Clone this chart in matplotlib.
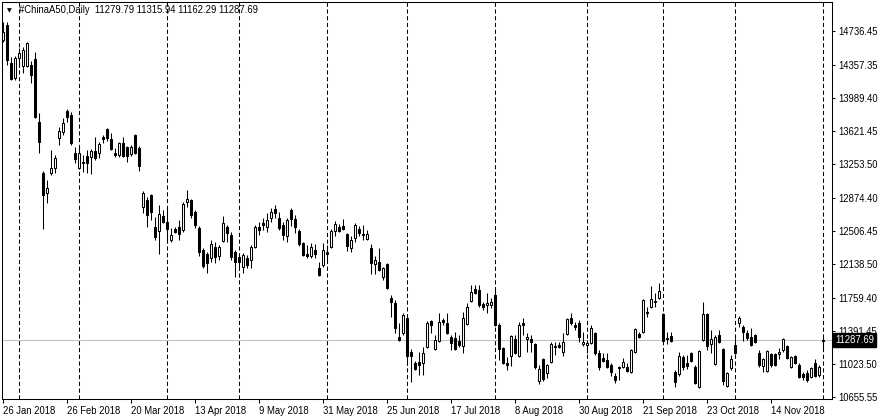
import matplotlib
matplotlib.use("Agg")
import matplotlib.pyplot as plt
from matplotlib.patches import Rectangle
from matplotlib.transforms import blended_transform_factory

symbol = "#ChinaA50,Daily"

opens = [14633, 14800, 14376, 14209, 14432, 14343, 14343, 14354, 14421, 13719,
         13150, 12927, 13150, 13206, 13540, 13607, 13841, 13797, 13373, 13206,
         13273, 13340, 13328, 13395, 13373, 13551, 13641, 13529, 13373, 13351,
         13485, 13440, 13362, 13574, 13429, 12771, 12849, 12905, 12548, 12503,
         12671, 12604, 12403, 12526, 12548, 12515, 12827, 12849, 12715, 12537,
         12292, 12247, 12202, 12325, 12225, 12392, 12548, 12459, 12269, 12213,
         12102, 12202, 12180, 12325, 12548, 12593, 12548, 12648, 12749, 12648,
         12570, 12448, 12738, 12637, 12503, 12370, 12247, 12225, 12292, 12091,
         12124, 12269, 12325, 12503, 12548, 12559, 12470, 12314, 12425, 12526,
         12470, 12414, 12314, 12135, 12158, 11990, 12135, 11756, 11701, 11321,
         11366, 11533, 11154, 11032, 11043, 11032, 11210, 11500, 11188, 11277,
         11511, 11478, 11321, 11310, 11277, 11221, 11466, 11723, 11857, 11846,
         11689, 11678, 11678, 11790, 11455, 11199, 11032, 11110, 11299, 11110,
         11478, 11299, 11299, 11243, 10831, 11076, 10920, 11043, 11221, 11232,
         11154, 11355, 11533, 11455, 11478, 11243, 11232, 11255, 11366, 11143,
         11087, 11065, 11009, 10887, 10987, 10987, 10987, 10931, 11154, 11355,
         11377, 11600, 11656, 11723, 11756, 11578, 11310, 11333, 10931, 10909,
         11098, 11032, 11143, 10987, 10764, 11288, 11578, 11243, 11020, 11344,
         11188, 10775, 10976, 11232, 11478, 11433, 11366, 11321, 11344, 11143,
         10998, 10942, 11132, 11132, 11132, 11177, 11221, 10987, 11110, 11009,
         10909, 10920, 10875, 11032, 10898, 11279.79]

highs = [14834, 14834, 14443, 14455, 14544, 14555, 14611, 14399, 14499, 13819,
         13172, 13072, 13407, 13351, 13663, 13763, 13864, 13830, 13440, 13429,
         13351, 13407, 13418, 13551, 13496, 13574, 13652, 13596, 13429, 13496,
         13551, 13451, 13462, 13585, 13451, 12949, 12882, 12916, 12659, 12793,
         12738, 12771, 12537, 12548, 12626, 12827, 12961, 12860, 12738, 12559,
         12314, 12269, 12403, 12381, 12347, 12671, 12570, 12492, 12292, 12236,
         12258, 12236, 12347, 12570, 12604, 12648, 12704, 12760, 12793, 12715,
         12604, 12648, 12760, 12682, 12526, 12381, 12347, 12370, 12358, 12158,
         12370, 12347, 12526, 12615, 12581, 12637, 12481, 12448, 12593, 12559,
         12570, 12515, 12358, 12225, 12314, 12102, 12147, 11790, 11734, 11478,
         11589, 11556, 11188, 11054, 11154, 11210, 11500, 11511, 11344, 11589,
         11533, 11589, 11344, 11377, 11344, 11600, 11701, 11901, 11901, 11901,
         11712, 11812, 11756, 11846, 11478, 11210, 11098, 11344, 11344, 11489,
         11533, 11366, 11344, 11255, 11009, 11087, 11020, 11266, 11266, 11266,
         11366, 11533, 11589, 11489, 11511, 11377, 11288, 11455, 11377, 11177,
         11143, 11143, 11032, 10920, 10998, 11087, 11032, 11188, 11422, 11377,
         11745, 11656, 11890, 11812, 11924, 11589, 11377, 11377, 10954, 11154,
         11121, 11121, 11154, 11009, 11177, 11712, 11589, 11400, 11344, 11400,
         11199, 10931, 11121, 11310, 11556, 11455, 11400, 11422, 11355, 11177,
         11087, 11177, 11143, 11143, 11199, 11310, 11232, 11110, 11121, 11032,
         10931, 10954, 10987, 11076, 11009, 11315.94]

lows = [14611, 14354, 14187, 14187, 14332, 14265, 14332, 14153, 13763, 13373,
        12526, 12816, 13128, 13150, 13462, 13574, 13719, 13462, 13262, 13195,
        13161, 13150, 13139, 13295, 13317, 13485, 13507, 13407, 13328, 13328,
        13328, 13273, 13340, 13362, 13172, 12704, 12548, 12626, 12403, 12247,
        12593, 12381, 12381, 12481, 12403, 12492, 12771, 12648, 12537, 12225,
        12091, 12035, 12158, 12147, 12180, 12381, 12381, 12180, 11990, 12068,
        12035, 12091, 12091, 12314, 12459, 12515, 12492, 12604, 12648, 12515,
        12403, 12381, 12559, 12481, 12336, 12225, 12202, 12202, 12202, 12001,
        12102, 12180, 12314, 12448, 12492, 12515, 12280, 12269, 12381, 12448,
        12403, 12403, 12024, 12024, 12057, 11957, 11857, 11544, 11366, 11277,
        11344, 11009, 10820, 10954, 10898, 10898, 11199, 11366, 11177, 11266,
        11455, 11355, 11177, 11177, 11210, 11143, 11455, 11712, 11801, 11656,
        11623, 11589, 11645, 11444, 11065, 11020, 10954, 10998, 11132, 11098,
        11344, 11154, 11154, 10965, 10797, 10831, 10864, 11032, 11121, 11199,
        11110, 11344, 11455, 11400, 11266, 11221, 11143, 11243, 11121, 10954,
        11043, 10976, 10887, 10809, 10842, 10976, 10931, 10920, 11143, 11310,
        11366, 11544, 11645, 11656, 11745, 11266, 11243, 11266, 10764, 10887,
        10954, 10965, 11043, 10797, 10753, 11277, 11177, 11143, 11009, 11255,
        10786, 10764, 10954, 11132, 11433, 11277, 11288, 11221, 11255, 10987,
        10931, 10931, 10987, 10998, 11076, 11154, 11076, 10976, 11020, 10864,
        10842, 10820, 10864, 10875, 10875, 11162.29]

closes = [14722, 14410, 14198, 14432, 14488, 14521, 14599, 14243, 13774, 13496,
          12905, 12983, 13206, 13317, 13618, 13708, 13774, 13485, 13306, 13373,
          13262, 13262, 13395, 13317, 13473, 13529, 13540, 13418, 13351, 13485,
          13340, 13340, 13440, 13373, 13228, 12927, 12682, 12715, 12436, 12693,
          12604, 12526, 12459, 12492, 12470, 12804, 12860, 12682, 12570, 12269,
          12113, 12147, 12358, 12213, 12325, 12593, 12481, 12213, 12158, 12158,
          12236, 12124, 12325, 12548, 12515, 12570, 12626, 12715, 12704, 12537,
          12459, 12626, 12637, 12548, 12358, 12236, 12225, 12325, 12247, 12013,
          12292, 12247, 12503, 12581, 12503, 12526, 12336, 12403, 12570, 12481,
          12459, 12470, 12147, 12180, 12068, 12091, 11868, 11712, 11422, 11288,
          11567, 11110, 11110, 10965, 11009, 11143, 11478, 11455, 11288, 11489,
          11489, 11366, 11255, 11188, 11232, 11533, 11656, 11823, 11812, 11678,
          11656, 11701, 11712, 11455, 11188, 11032, 11009, 11333, 11143, 11455,
          11455, 11321, 11266, 10987, 10965, 10853, 11009, 11243, 11210, 11210,
          11266, 11522, 11478, 11433, 11321, 11266, 11255, 11422, 11143, 10987,
          11054, 10987, 10931, 10842, 10976, 11043, 10942, 11177, 11411, 11321,
          11734, 11589, 11745, 11712, 11834, 11277, 11299, 11277, 10820, 11110,
          10987, 10998, 11054, 10809, 11165, 11578, 11221, 11299, 11321, 11266,
          10831, 10920, 11076, 11143, 11533, 11377, 11310, 11232, 11266, 11009,
          11076, 11165, 11009, 11009, 11154, 11299, 11087, 11098, 11032, 10875,
          10875, 10842, 10976, 10887, 10987, 11287.69]

month_starts = [4, 19, 41, 59, 81, 101, 123, 146, 165, 183, 205]
date_positions = [0, 16, 32, 48, 64, 80, 96, 112, 128, 144, 160, 176, 192]
date_labels = ["26 Jan 2018", "26 Feb 2018", "20 Mar 2018", "13 Apr 2018",
               "9 May 2018", "31 May 2018", "25 Jun 2018", "17 Jul 2018",
               "8 Aug 2018", "30 Aug 2018", "21 Sep 2018", "23 Oct 2018",
               "14 Nov 2018"]
price_ticks = [14736.45, 14357.35, 13989.40, 13621.45, 13253.50, 12874.40,
               12506.45, 12138.50, 11759.40, 11391.45, 11023.50, 10655.55]

FONT = "Liberation Sans"
FS = 6.85
LW = 0.75

fig = plt.figure(figsize=(8.8, 4.2), dpi=100)
fig.patch.set_facecolor("white")
ax = fig.add_axes([1.5 / 880, 21 / 420, 830.5 / 880, 397.5 / 420])
ax.set_facecolor("white")

n = len(opens)
ax.set_xlim(-0.375, 207.25)
ax.set_ylim(10630, 15062)

# last price line
last_close = closes[-1]
ax.axhline(last_close, color="#c0c0c0", lw=LW, zorder=1)

# period separators
for m in month_starts:
    ax.axvline(m, color="black", lw=LW, linestyle=(0, (4, 2.5)), zorder=2)

# candles
bw = 0.5
for i in range(n):
    o, h, l, c = opens[i], highs[i], lows[i], closes[i]
    ax.vlines(i, l, h, color="black", lw=LW, zorder=3)
    bull = c >= o
    bottom = min(o, c)
    height = max(abs(c - o), 6)
    ax.add_patch(Rectangle((i - bw / 2, bottom), bw, height,
                           facecolor="white" if bull else "black",
                           edgecolor="black", lw=LW, zorder=4))

# axes styling
for s in ["left", "right", "top", "bottom"]:
    ax.spines[s].set_color("black")
    ax.spines[s].set_linewidth(LW)

ax.yaxis.tick_right()
ax.set_yticks(price_ticks)
ax.set_yticklabels([f"{v:.2f}" for v in price_ticks], fontfamily=FONT, fontsize=FS)
ax.tick_params(axis="y", direction="out", length=2.5, width=LW, pad=2, colors="black")

ax.set_xticks(date_positions)
ax.set_xticklabels(date_labels, ha="left", fontfamily=FONT, fontsize=FS)
ax.tick_params(axis="x", direction="out", length=3, width=LW, pad=2, colors="black")

# last price box
trans = blended_transform_factory(ax.transAxes, ax.transData)
ax.text(1.0 + 3 / 830.5, last_close, f"{last_close:.2f}", transform=trans,
        ha="left", va="center", color="white", fontfamily=FONT, fontsize=FS,
        zorder=10, clip_on=False,
        bbox=dict(boxstyle="square,pad=0.25", facecolor="black", edgecolor="black"))

# header
fig.text(7 / 880, 1 - 11 / 420, "\u25bc", fontsize=4.5, fontfamily="DejaVu Sans",
         ha="left", va="center", color="black")
header = f"{symbol}  {opens[-1]:.2f} {highs[-1]:.2f} {lows[-1]:.2f} {closes[-1]:.2f}"
fig.text(19 / 880, 1 - 10 / 420, header, fontsize=FS, fontfamily=FONT,
         ha="left", va="center", color="black")

fig.savefig("out.png", dpi=100, facecolor="white")
